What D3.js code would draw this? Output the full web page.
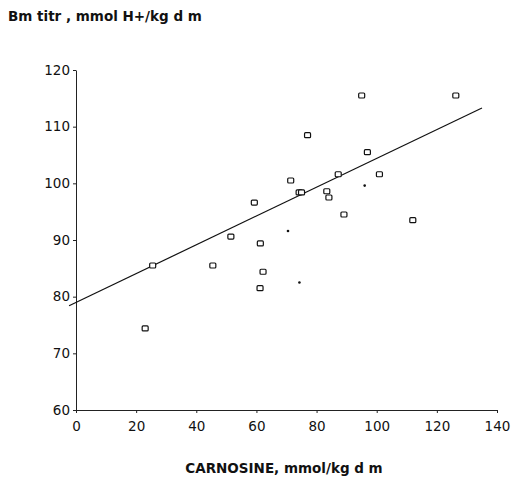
<!DOCTYPE html>
<html>
<head>
<meta charset="utf-8">
<script src="https://cdn.jsdelivr.net/npm/d3@7"></script>
<style>
  body { margin: 0; background: #fff; }
  text { font-family: "DejaVu Sans", sans-serif; fill: #111; }
  .axis path, .axis line { stroke: #222; stroke-width: 1; }
  .axis text { font-size: 13.5px; }
</style>
</head>
<body>
<div id="chart"></div>
<script>
// carnosine (x) vs buffering capacity (y)
var carnosine = [95, 126.3, 77, 96.9, 87.2, 100.9, 71.4, 74.2, 75, 83.4, 84.1, 89.1, 112, 59.3, 51.5, 61.3, 62.2, 25.5, 45.5, 61.2, 23];
var bmTitr    = [115.5, 115.5, 108.5, 105.5, 101.6, 101.6, 100.5, 98.4, 98.4, 98.6, 97.5, 94.5, 93.5, 96.6, 90.6, 89.4, 84.4, 85.5, 85.5, 81.5, 74.4];
// faint marks (partly lost in the original print)
var faintX = [70.5, 96, 74.3];
var faintY = [91.6, 99.6, 82.5];
// regression line end points
var lineX = [-2.3, 135];
var lineY = [78.4, 113.3];

var xTicks = [0, 20, 40, 60, 80, 100, 120, 140];
var yTicks = [60, 70, 80, 90, 100, 110, 120];

var margin = {top: 70, right: 16, bottom: 70, left: 76};

var svg = d3.select("#chart").append("svg")
  .attr("width", 513)
  .attr("height", 480);

var g = svg.append("g")
  .attr("transform", "translate(" + margin.left + "," + margin.top + ")");

var xScale = d3.scaleLinear().domain([0, 140]).range([0, 421]);
var yScale = d3.scaleLinear().domain([60, 120]).range([340, 0]);

g.append("g")
  .attr("class", "axis")
  .attr("transform", "translate(0,340)")
  .call(d3.axisBottom(xScale).tickValues(xTicks).tickSize(3).tickSizeOuter(0).tickPadding(8));

g.append("g")
  .attr("class", "axis")
  .call(d3.axisLeft(yScale).tickValues(yTicks).tickSize(3).tickSizeOuter(0).tickPadding(3));

// regression line
g.append("line")
  .attr("x1", xScale(lineX[0])).attr("y1", yScale(lineY[0]))
  .attr("x2", xScale(lineX[1])).attr("y2", yScale(lineY[1]))
  .attr("stroke", "#111")
  .attr("stroke-width", 1.2);

var pts = carnosine.map(function(d, i) { return {x: d, y: bmTitr[i]}; });
g.selectAll(".pt")
  .data(pts)
  .enter()
  .append("rect")
  .attr("class", "pt")
  .attr("x", function(d) { return xScale(d.x) - 3; })
  .attr("y", function(d) { return yScale(d.y) - 2.5; })
  .attr("width", 6)
  .attr("height", 5)
  .attr("rx", 1)
  .attr("fill", "#fff")
  .attr("stroke", "#111")
  .attr("stroke-width", 1.2);

var faint = faintX.map(function(d, i) { return {x: d, y: faintY[i]}; });
g.selectAll(".faint")
  .data(faint)
  .enter()
  .append("circle")
  .attr("class", "faint")
  .attr("cx", function(d) { return xScale(d.x); })
  .attr("cy", function(d) { return yScale(d.y); })
  .attr("r", 1.3)
  .attr("fill", "#111");

// axis titles
svg.append("text")
  .attr("x", 8)
  .attr("y", 21)
  .style("font-size", "13.5px")
  .style("font-weight", "bold")
  .text("Bm titr , mmol H+/kg d m");

svg.append("text")
  .attr("x", 284)
  .attr("y", 473)
  .attr("text-anchor", "middle")
  .style("font-size", "13.5px")
  .style("font-weight", "bold")
  .text("CARNOSINE, mmol/kg d m");
</script>
</body>
</html>
